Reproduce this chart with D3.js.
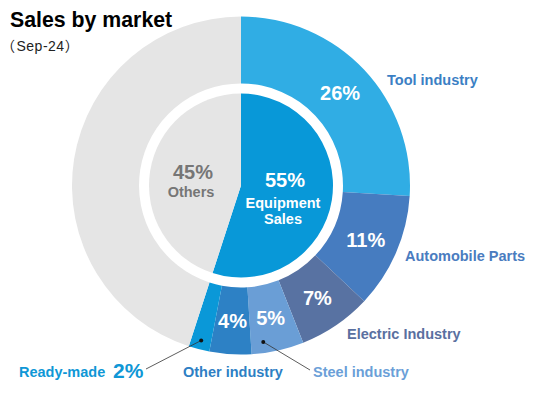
<!DOCTYPE html>
<html>
<head>
<meta charset="utf-8">
<title>Sales by market</title>
<script src="https://cdn.jsdelivr.net/npm/d3@7"></script>
<style>
  body { margin: 0; background: #fff; }
  svg text { font-family: "Liberation Sans", Arial, "Noto Sans CJK JP", sans-serif; }
</style>
</head>
<body>
<div id="chart"></div>
<script>
// data
var outerCats = ["Tool industry", "Automobile Parts", "Electric Industry", "Steel industry", "Other industry", "Ready-made", "Others"];
var outerVals = [26, 11, 7, 5, 4, 2, 45];
var outerColors = ["#30ade4", "#467cc0", "#5872a2", "#6a9ed6", "#2d81c5", "#0a98d8", "#e5e5e5"];
var labelColors = ["#3b7fc4", "#4a7cc0", "#5a70a0", "#6b9fd8", "#2e7fc4", "#0f97d6", null];

var innerCats = ["Equipment Sales", "Others"];
var innerVals = [55, 45];
var innerColors = ["#0898d8", "#e5e5e5"];

var width = 545, height = 397;
var cx = 241, cy = 185.5;
var R = 169, rIn = 102, rPie = 92;

var svg = d3.select("#chart").append("svg")
    .attr("width", width)
    .attr("height", height);

svg.append("text").attr("x", 10).attr("y", 27)
    .attr("font-size", 21.3).attr("font-weight", "bold").attr("fill", "#000")
    .text("Sales by market");
var sub = svg.append("text").attr("x", 1).attr("y", 50.5)
    .attr("font-size", 14).attr("fill", "#222");
sub.append("tspan").style("font-family", "'Noto Sans CJK JP'").text("（");
sub.append("tspan").attr("dx", 1.5).attr("letter-spacing", 0.5).text("Sep-24");
sub.append("tspan").style("font-family", "'Noto Sans CJK JP'").text("）");

var g = svg.append("g").attr("transform", "translate(" + cx + "," + cy + ")");

var pie = d3.pie().sort(null).value(function(d) { return d; });
var outerArcs = pie(outerVals);
var innerArcs = pie(innerVals);

var outerArc = d3.arc().innerRadius(rIn).outerRadius(R);
var pieArc = d3.arc().innerRadius(0).outerRadius(rPie);

g.selectAll("path.outer").data(outerArcs).enter().append("path")
    .attr("class", "outer")
    .attr("d", outerArc)
    .attr("fill", function(d, i) { return outerColors[i]; });

g.selectAll("path.inner").data(innerArcs).enter().append("path")
    .attr("class", "inner")
    .attr("d", pieArc)
    .attr("fill", function(d, i) { return innerColors[i]; });

// percentages inside the big slices
var pctArc = d3.arc().innerRadius(136).outerRadius(136);
g.selectAll("text.pct").data(outerArcs.slice(0, 5)).enter().append("text")
    .attr("class", "pct")
    .attr("transform", function(d) { return "translate(" + pctArc.centroid(d) + ")"; })
    .attr("dy", "0.36em")
    .attr("text-anchor", "middle")
    .attr("font-size", 20).attr("font-weight", "bold").attr("fill", "#fff")
    .text(function(d) { return d.value + "%"; });

// inner pie text
var inner0 = g.append("text").attr("text-anchor", "middle").attr("fill", "#fff").attr("font-weight", "bold");
inner0.append("tspan").attr("x", 44).attr("y", 1.5).attr("font-size", 20).text(innerVals[0] + "%");
inner0.append("tspan").attr("x", 42).attr("y", 22).attr("font-size", 14.5).text("Equipment");
inner0.append("tspan").attr("x", 42).attr("y", 38.5).attr("font-size", 14.5).text("Sales");

var inner1 = g.append("text").attr("text-anchor", "middle").attr("fill", "#767676").attr("font-weight", "bold");
inner1.append("tspan").attr("x", -48).attr("y", -6.5).attr("font-size", 20).text(innerVals[1] + "%");
inner1.append("tspan").attr("x", -50).attr("y", 11.5).attr("font-size", 14.5).text(innerCats[1]);

// outer category labels (layout, relative to page)
var labelPos = [[387, 85], [405, 261], [347, 339], [313, 377], [183, 377], [19, 377]];
labelPos.forEach(function(p, i) {
    svg.append("text").attr("x", p[0]).attr("y", p[1])
        .attr("font-size", 14.5).attr("font-weight", "bold")
        .attr("fill", labelColors[i])
        .text(outerCats[i]);
});
svg.append("text").attr("x", 113).attr("y", 378)
    .attr("font-size", 21).attr("font-weight", "bold").attr("fill", labelColors[5])
    .text(outerVals[5] + "%");

// leader lines for the small slices
function pointAt(d, frac, r) {
    var a = d.startAngle + frac * (d.endAngle - d.startAngle);
    return [r * Math.sin(a), -r * Math.cos(a)];
}
var leaders = [
    { arc: outerArcs[5], frac: 0.5, r: 160, end: [146 - cx, 369 - cy] },
    { arc: outerArcs[3], frac: 0.75, r: 158, end: [310 - cx, 370 - cy] }
];
leaders.forEach(function(l) {
    var p = pointAt(l.arc, l.frac, l.r);
    g.append("line")
        .attr("x1", p[0]).attr("y1", p[1])
        .attr("x2", l.end[0]).attr("y2", l.end[1])
        .attr("stroke", "#333").attr("stroke-width", 0.8);
    g.append("circle").attr("cx", p[0]).attr("cy", p[1]).attr("r", 2).attr("fill", "#111");
});
</script>
</body>
</html>
